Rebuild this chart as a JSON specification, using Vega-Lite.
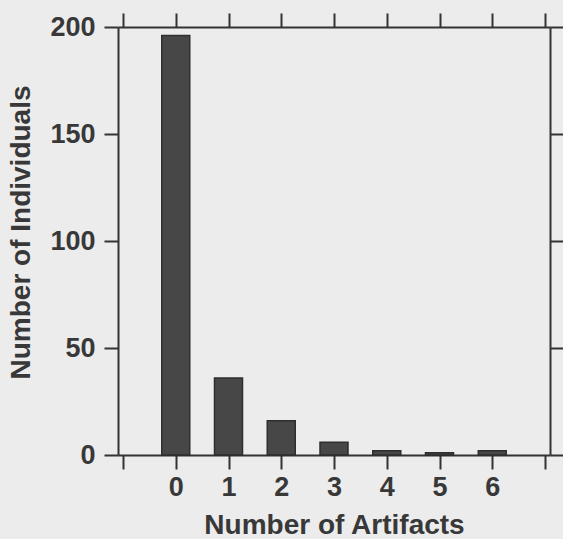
{
  "$schema": "https://vega.github.io/schema/vega-lite/v6.json",
  "autosize": "none",
  "width": 432,
  "height": 428,
  "padding": {"left": 118, "top": 27, "right": 13, "bottom": 84},
  "background": "#ececec",
  "config": {
    "view": {"stroke": null},
    "font": "Liberation Sans",
    "axis": {
      "grid": false,
      "domainColor": "#333333",
      "domainWidth": 2,
      "tickColor": "#333333",
      "tickWidth": 2,
      "tickSize": 14,
      "labelFont": "Liberation Sans",
      "labelFontWeight": "bold",
      "labelFontSize": 27,
      "labelColor": "#383838",
      "titleFont": "Liberation Sans",
      "titleFontWeight": "bold",
      "titleFontSize": 28,
      "titleColor": "#383838"
    }
  },
  "data": {
    "values": [
      {"artifacts": 0, "individuals": 196},
      {"artifacts": 1, "individuals": 36},
      {"artifacts": 2, "individuals": 16},
      {"artifacts": 3, "individuals": 6},
      {"artifacts": 4, "individuals": 2},
      {"artifacts": 5, "individuals": 1},
      {"artifacts": 6, "individuals": 2}
    ]
  },
  "layer": [
    {
      "mark": {"type": "bar", "size": 28, "fill": "#474747", "stroke": "#2e2e2e", "strokeWidth": 1.5},
      "encoding": {
        "x": {
          "field": "artifacts", "type": "quantitative",
          "scale": {"domain": [-1, 7], "nice": false, "zero": false},
          "axis": {
            "orient": "bottom",
            "values": [-1, 0, 1, 2, 3, 4, 5, 6, 7],
            "labelExpr": "datum.value >= 0 && datum.value <= 6 ? datum.label : ''",
            "labelPadding": 5,
            "title": "Number of Artifacts",
            "titlePadding": 11
          }
        },
        "y": {
          "field": "individuals", "type": "quantitative",
          "scale": {"domain": [0, 200], "nice": false},
          "axis": {
            "orient": "left",
            "values": [0, 50, 100, 150, 200],
            "labelPadding": 9,
            "title": "Number of Individuals",
            "titlePadding": 14,
            "titleY": 205
          }
        }
      }
    },
    {
      "mark": {"type": "bar", "size": 28, "opacity": 0},
      "encoding": {
        "x": {
          "field": "artifacts", "type": "quantitative",
          "axis": {
            "orient": "top",
            "values": [-1, 0, 1, 2, 3, 4, 5, 6, 7],
            "labels": false,
            "title": null
          }
        },
        "y": {
          "field": "individuals", "type": "quantitative",
          "axis": {
            "orient": "right",
            "values": [0, 50, 100, 150, 200],
            "labels": false,
            "title": null
          }
        }
      }
    }
  ],
  "resolve": {"axis": {"x": "independent", "y": "independent"}}
}
